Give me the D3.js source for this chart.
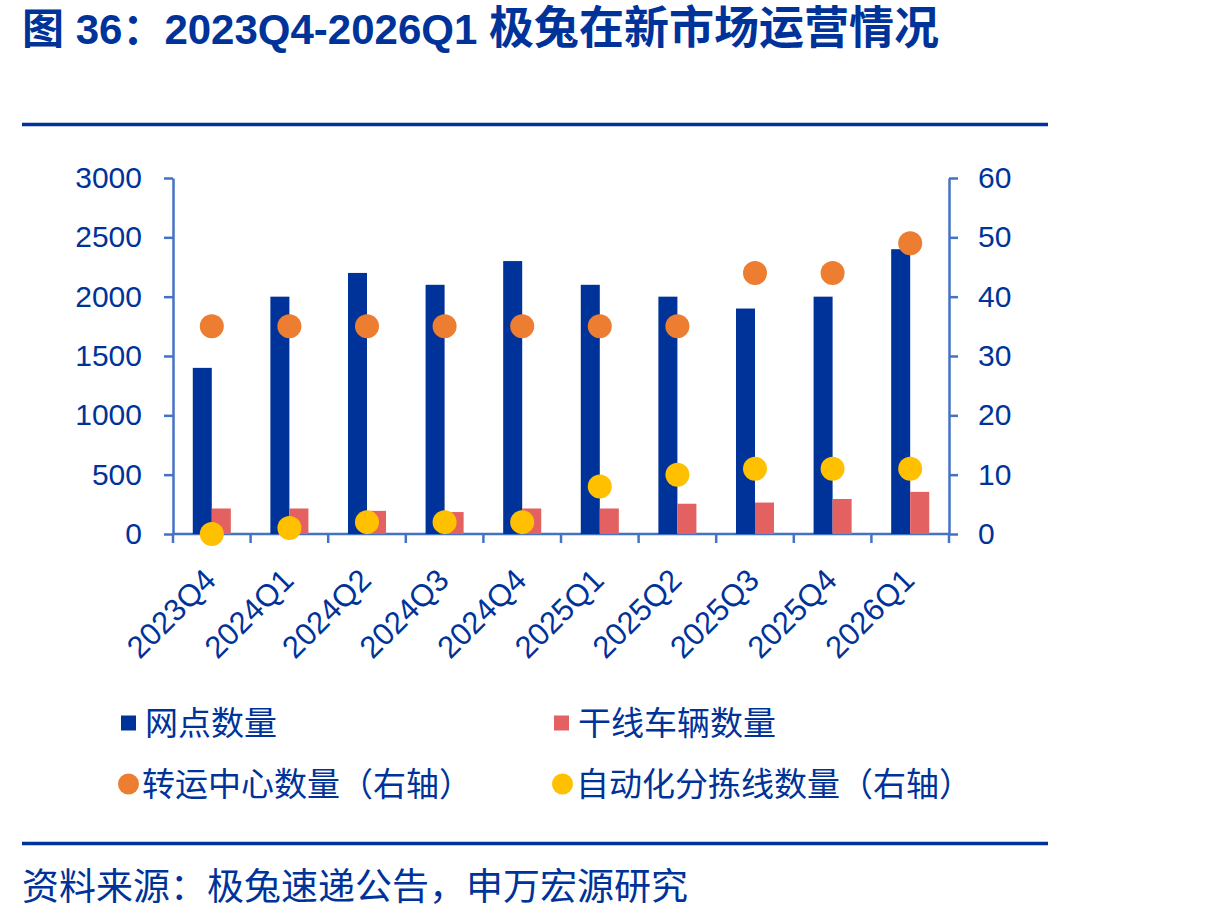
<!DOCTYPE html>
<html>
<head>
<meta charset="utf-8">
<script src="https://cdn.jsdelivr.net/npm/d3@7"></script>
<style>
  body { margin: 0; background: #fff; }
  text { font-family: "Liberation Sans", "Noto Sans CJK SC", sans-serif; }
</style>
</head>
<body>
<div id="chart"></div>
<script>
// chart data
var quarters = ["2023Q4", "2024Q1", "2024Q2", "2024Q3", "2024Q4", "2025Q1", "2025Q2", "2025Q3", "2025Q4", "2026Q1"];
var outlets = [1400, 2000, 2200, 2100, 2300, 2100, 2000, 1900, 2000, 2400];       // 网点数量
var trunkTrucks = [215, 215, 195, 185, 215, 215, 255, 265, 295, 355];             // 干线车辆数量
var hubs = [35, 35, 35, 35, 35, 35, 35, 44, 44, 49];                               // 转运中心数量（右轴）
var sortLines = [0, 1, 2, 2, 2, 8, 10, 11, 11, 11];                                // 自动化分拣线数量（右轴）
var leftTicks = [0, 500, 1000, 1500, 2000, 2500, 3000];
var rightTicks = [0, 10, 20, 30, 40, 50, 60];

var w = 1219;
var h = 919;
var navy = "#003399";
var axisColor = "#4472C4";
var colors = { outlets: "#003399", trucks: "#E46161", hubs: "#ED7D31", lines: "#FFC000" };

var svg = d3.select("#chart")
    .append("svg")
    .attr("width", w)
    .attr("height", h);

// title
var title = svg.append("text")
    .attr("x", 22)
    .attr("y", 44)
    .attr("fill", navy)
    .attr("font-weight", "bold")
    .attr("font-size", "42px");
title.append("tspan").text("图 36：2023Q4-2026Q1 ");
title.append("tspan").attr("font-size", "45px").text("极兔在新市场运营情况");

// rules above and below the chart
svg.append("line")
    .attr("x1", 22).attr("x2", 1048)
    .attr("y1", 124.5).attr("y2", 124.5)
    .attr("stroke", navy).attr("stroke-width", 3.5);
svg.append("line")
    .attr("x1", 22).attr("x2", 1048)
    .attr("y1", 843.5).attr("y2", 843.5)
    .attr("stroke", navy).attr("stroke-width", 3.5);

// plot area
var plotLeft = 173, plotRight = 949, plotTop = 178, plotBottom = 534;

var xScale = d3.scaleBand()
    .domain(quarters)
    .range([plotLeft, plotRight])
    .padding(0);

var xSub = d3.scaleBand()
    .domain(["outlets", "trucks"])
    .range([0, xScale.bandwidth()])
    .paddingInner(0)
    .paddingOuter(1.04);

var yLeft = d3.scaleLinear().domain([0, 3000]).range([plotBottom, plotTop]);
var yRight = d3.scaleLinear().domain([0, 60]).range([plotBottom, plotTop]);

// axes
var yAxisLeft = d3.axisLeft(yLeft)
    .tickValues(leftTicks)
    .tickFormat(d3.format("d"))
    .tickSize(9)
    .tickSizeOuter(0)
    .tickPadding(22);

var yAxisRight = d3.axisRight(yRight)
    .tickValues(rightTicks)
    .tickFormat(d3.format("d"))
    .tickSize(9)
    .tickSizeOuter(0)
    .tickPadding(20);

var gl = svg.append("g")
    .attr("transform", "translate(" + plotLeft + ",0)")
    .call(yAxisLeft);
var gr = svg.append("g")
    .attr("transform", "translate(" + plotRight + ",0)")
    .call(yAxisRight);

// x axis: line plus ticks on category boundaries
var gx = svg.append("g");
gx.append("line")
    .attr("x1", plotLeft).attr("x2", plotRight)
    .attr("y1", plotBottom).attr("y2", plotBottom);
gx.selectAll("line.tick")
    .data(d3.range(quarters.length + 1))
    .enter()
    .append("line")
    .attr("class", "tick")
    .attr("x1", function (d) { return plotLeft + d * xScale.step(); })
    .attr("x2", function (d) { return plotLeft + d * xScale.step(); })
    .attr("y1", plotBottom)
    .attr("y2", plotBottom + 9);

[gl, gr, gx].forEach(function (g) {
    g.selectAll("path, line")
        .attr("stroke", axisColor)
        .attr("stroke-width", 2.5);
    g.selectAll("text")
        .attr("fill", navy)
        .attr("font-size", "30px");
});

// rotated category labels
svg.selectAll("text.xlabel")
    .data(quarters)
    .enter()
    .append("text")
    .attr("class", "xlabel")
    .attr("text-anchor", "end")
    .attr("font-size", "31px")
    .attr("fill", navy)
    .attr("transform", function (d) {
        return "translate(" + (xScale(d) + xScale.bandwidth() / 2 + 6) + "," + 582 + ") rotate(-45)";
    })
    .text(function (d) { return d; });

// bars
svg.selectAll("rect.outlets")
    .data(outlets)
    .enter()
    .append("rect")
    .attr("class", "outlets")
    .attr("x", function (d, i) { return xScale(quarters[i]) + xSub("outlets"); })
    .attr("y", function (d) { return yLeft(d); })
    .attr("width", xSub.bandwidth())
    .attr("height", function (d) { return yLeft(0) - yLeft(d); })
    .attr("fill", colors.outlets);

svg.selectAll("rect.trucks")
    .data(trunkTrucks)
    .enter()
    .append("rect")
    .attr("class", "trucks")
    .attr("x", function (d, i) { return xScale(quarters[i]) + xSub("trucks"); })
    .attr("y", function (d) { return yLeft(d); })
    .attr("width", xSub.bandwidth())
    .attr("height", function (d) { return yLeft(0) - yLeft(d); })
    .attr("fill", colors.trucks);

// dots on the right axis
svg.selectAll("circle.hubs")
    .data(hubs)
    .enter()
    .append("circle")
    .attr("class", "hubs")
    .attr("cx", function (d, i) { return xScale(quarters[i]) + xScale.bandwidth() / 2; })
    .attr("cy", function (d) { return yRight(d); })
    .attr("r", 12)
    .attr("fill", colors.hubs);

svg.selectAll("circle.lines")
    .data(sortLines)
    .enter()
    .append("circle")
    .attr("class", "lines")
    .attr("cx", function (d, i) { return xScale(quarters[i]) + xScale.bandwidth() / 2; })
    .attr("cy", function (d) { return yRight(d); })
    .attr("r", 12)
    .attr("fill", colors.lines);

// legend
var legend = [
    { name: "网点数量", color: colors.outlets, shape: "rect", x: 121, y: 723 },
    { name: "干线车辆数量", color: colors.trucks, shape: "rect", x: 554, y: 723 },
    { name: "转运中心数量（右轴）", color: colors.hubs, shape: "circle", x: 118, y: 784 },
    { name: "自动化分拣线数量（右轴）", color: colors.lines, shape: "circle", x: 552, y: 784 }
];

var lg = svg.selectAll("g.legend")
    .data(legend)
    .enter()
    .append("g")
    .attr("class", "legend");

lg.filter(function (d) { return d.shape == "rect"; })
    .append("rect")
    .attr("x", function (d) { return d.x; })
    .attr("y", function (d) { return d.y - 7.5; })
    .attr("width", 15)
    .attr("height", 15)
    .attr("fill", function (d) { return d.color; });

lg.filter(function (d) { return d.shape == "circle"; })
    .append("circle")
    .attr("cx", function (d) { return d.x + 10.5; })
    .attr("cy", function (d) { return d.y; })
    .attr("r", 10.5)
    .attr("fill", function (d) { return d.color; });

lg.append("text")
    .attr("x", function (d) { return d.x + 24; })
    .attr("y", function (d) { return d.y + 12; })
    .attr("font-size", "33px")
    .attr("fill", navy)
    .text(function (d) { return d.name; });

// source note
svg.append("text")
    .attr("x", 22)
    .attr("y", 900)
    .attr("font-size", "37px")
    .attr("fill", navy)
    .text("资料来源：极兔速递公告，申万宏源研究");
</script>
</body>
</html>
